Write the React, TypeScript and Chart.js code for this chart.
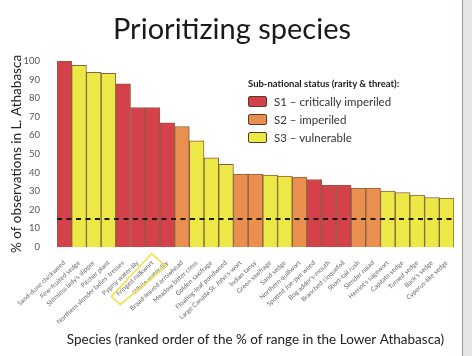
import React, { useEffect, useRef } from "react";
import { Chart, registerables } from "chart.js";
Chart.register(...registerables);

const species = [
  "Sand-dune chickweed",
  "Few-fruited sedge",
  "Stemless lady's slipper",
  "Pitcher plant",
  "Northern slender ladies' tresses",
  "Pygmy water-lily",
  "Fringed milkwort",
  "White water-lily",
  "Broad-leaved arrowhead",
  "Meadow bitter cress",
  "Golden saxifrage",
  "Floating-leaf pondweed",
  "Large Canada St. John's-wort",
  "Indian tansy",
  "Green saxifrage",
  "Sand sedge",
  "Northern quillwort",
  "Spotted Joe-pye weed",
  "Bog adder's-mouth",
  "Branched cinquefoil",
  "Short-tail rush",
  "Slender naiad",
  "Herriot's sagewort",
  "Capitate sedge",
  "Turned sedge",
  "Back's sedge",
  "Cyperus-like sedge",
];

const percentObserved = [
  100, 97.7, 93.9, 93.4, 87.7, 75, 75, 66.7, 64.8, 57.1, 47.9, 44.5, 39.2, 39.2,
  38.6, 38.1, 37.6, 36.3, 33.3, 33.3, 31.7, 31.7, 30.0, 29.3, 27.9, 26.6, 26.3,
];

const status = [
  "S1", "S3", "S3", "S3", "S1", "S1", "S1", "S1", "S2", "S3", "S3", "S3", "S2", "S2",
  "S3", "S3", "S2", "S1", "S1", "S1", "S2", "S2", "S3", "S3", "S3", "S3", "S3",
];

const statusKeys = ["S1", "S2", "S3"];
const statusLabels = ["S1 \u2013 critically imperiled", "S2 \u2013 imperiled", "S3 \u2013 vulnerable"];
const statusColors: Record<string, string> = { S1: "#d5414b", S2: "#e98f50", S3: "#ece845" };
const threshold = 15;
const highlightedSpecies = ["Fringed milkwort", "White water-lily"];

const FONT = "Lato, 'Open Sans', sans-serif";

export default function App() {
  const ref = useRef<HTMLCanvasElement | null>(null);

  useEffect(() => {
    if (!ref.current) return;

    const thresholdLine = {
      id: "thresholdLine",
      afterDatasetsDraw(chart: any) {
        const { ctx, chartArea, scales } = chart;
        const y = scales.y.getPixelForValue(threshold);
        ctx.save();
        ctx.strokeStyle = "#1a1a1a";
        ctx.lineWidth = 2;
        ctx.setLineDash([5, 4.5]);
        ctx.beginPath();
        ctx.moveTo(chartArea.left, y);
        ctx.lineTo(chartArea.right, y);
        ctx.stroke();
        ctx.restore();
      },
    };

    const labelHighlight = {
      id: "labelHighlight",
      afterDraw(chart: any) {
        const { ctx, chartArea, scales } = chart;
        const i = species.indexOf(highlightedSpecies[0]);
        const x0 = scales.x.getPixelForValue(i);
        const step = scales.x.getPixelForValue(i + 1) - x0;
        const b = chartArea.bottom;
        ctx.save();
        ctx.strokeStyle = "#f0e34a";
        ctx.lineWidth = 1.6;
        ctx.beginPath();
        ctx.moveTo(x0 - 0.06 * step, b + 6.7);
        ctx.lineTo(x0 + 0.9 * step, b + 19.4);
        ctx.lineTo(x0 - 2.2 * step, b + 57.7);
        ctx.lineTo(x0 - 2.8 * step, b + 49.4);
        ctx.closePath();
        ctx.stroke();
        ctx.restore();
      },
    };

    const chart = new Chart(ref.current, {
      type: "bar",
      data: {
        labels: species,
        datasets: [
          {
            data: percentObserved,
            backgroundColor: status.map((s) => statusColors[s]),
            borderColor: "#8a5e3e",
            borderWidth: 1,
            categoryPercentage: 1,
            barPercentage: 1,
          },
        ],
      },
      options: {
        animation: false,
        responsive: false,
        layout: { padding: { left: 0, right: 18, top: 61, bottom: 0 } },
        plugins: {
          legend: { display: false },
          tooltip: { enabled: false },
          title: { display: false },
        },
        scales: {
          x: {
            grid: { display: false },
            border: { display: false },
            ticks: {
              autoSkip: false,
              minRotation: 43,
              maxRotation: 43,
              padding: 4,
              color: "#6a6a6a",
              font: { family: FONT, size: 6.5 },
            },
            title: {
              display: true,
              text: "Species (ranked order of the % of range in the Lower Athabasca)",
              color: "#222",
              font: { family: FONT, size: 13.5 },
              padding: { top: 0, bottom: 8 },
            },
            afterFit(scale: any) {
              scale.height = 109;
            },
          },
          y: {
            min: 0,
            max: 100,
            grid: { display: false },
            border: { display: false },
            ticks: {
              stepSize: 10,
              padding: 9,
              color: "#555",
              font: { family: FONT, size: 9.5 },
            },
            title: {
              display: true,
              text: "% of observations in L. Athabasca",
              color: "#222",
              font: { family: FONT, size: 13.5 },
              padding: { top: 9, bottom: 0 },
            },
            afterFit(scale: any) {
              scale.width = 57;
            },
          },
        },
      },
      plugins: [thresholdLine, labelHighlight],
    });
    return () => chart.destroy();
  }, []);

  return (
    <div
      style={{
        position: "fixed",
        left: 0,
        top: 0,
        width: 472,
        height: 356,
        background: "#fff",
        overflow: "hidden",
        fontFamily: FONT,
      }}
    >
      <canvas ref={ref} width={472} height={356} style={{ position: "absolute", left: 0, top: 0 }} />
      <div
        style={{
          position: "absolute",
          left: 0,
          width: 464,
          top: 11,
          textAlign: "center",
          fontSize: 29,
          color: "#1a1a1a",
          lineHeight: "34px",
          whiteSpace: "nowrap",
        }}
      >
        Prioritizing species
      </div>
      <div style={{ position: "absolute", left: 248, top: 77, color: "#1a1a1a" }}>
        <div style={{ fontSize: 9.5, fontWeight: 700, lineHeight: "14px", whiteSpace: "nowrap" }}>
          Sub-national status (rarity &amp; threat):
        </div>
        {statusKeys.map((k, i) => (
          <div key={k} style={{ display: "flex", alignItems: "center", height: 18, marginTop: i === 0 ? 1 : 0 }}>
            <div
              style={{
                width: 17,
                height: 9,
                background: statusColors[k],
                border: "1px solid #5a3a2a",
                borderRadius: 2,
                marginRight: 7,
              }}
            />
            <span style={{ fontSize: 11.5, color: "#333", whiteSpace: "nowrap" }}>{statusLabels[i]}</span>
          </div>
        ))}
      </div>
      <div style={{ position: "absolute", left: 462, top: 0, width: 1, height: 356, background: "#9a9a7a" }} />
      <div style={{ position: "absolute", left: 463, top: 0, width: 9, height: 356, background: "#e6e6e6" }} />
    </div>
  );
}
